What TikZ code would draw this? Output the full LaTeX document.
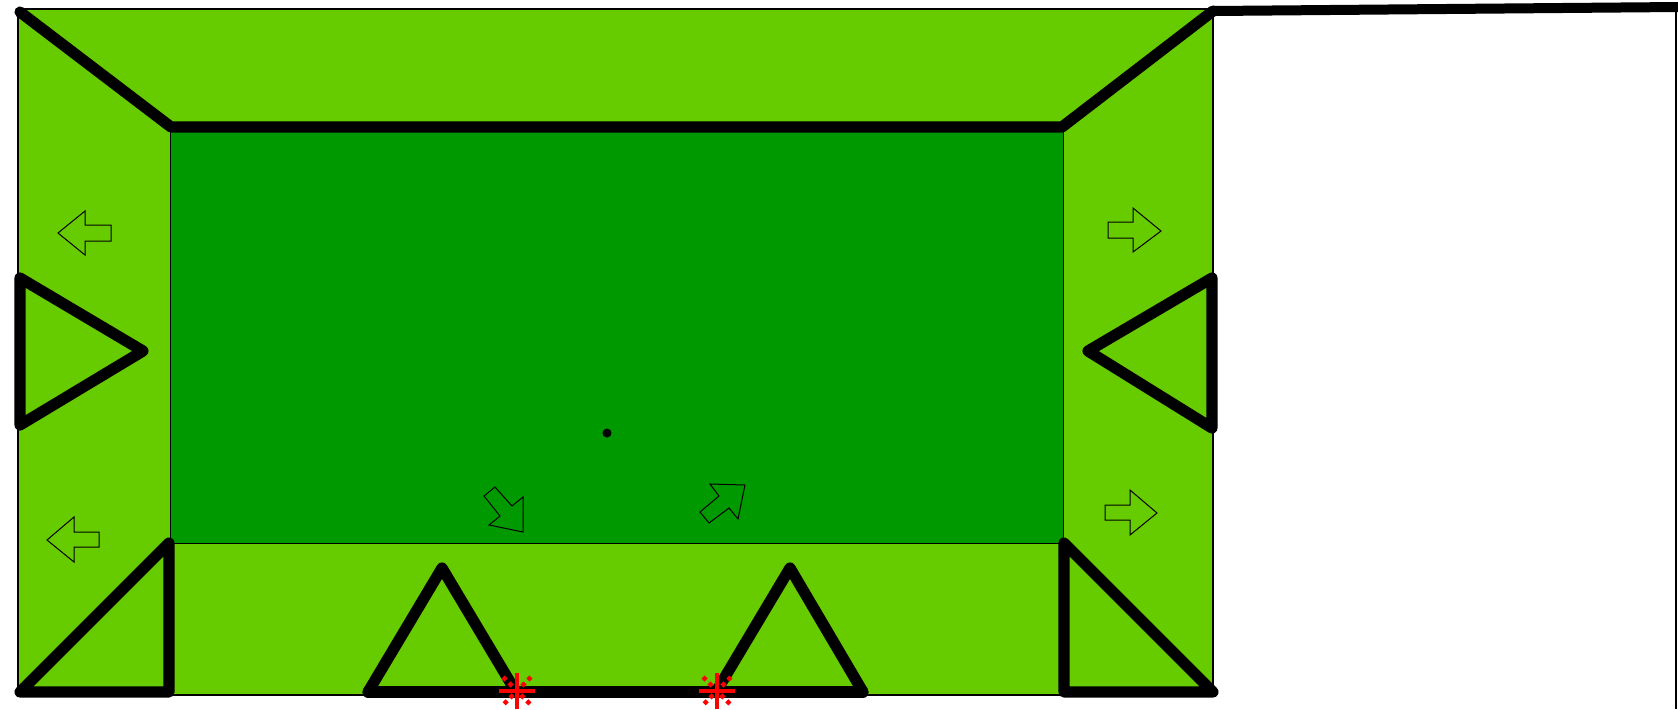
\documentclass[tikz,border=0pt]{standalone}
\usepackage{xcolor}
\usepackage{tikz}
\usetikzlibrary{calc}

\definecolor{lawn}{HTML}{66CC00}
\definecolor{court}{HTML}{009900}
\definecolor{pin}{HTML}{333333}

\begin{document}
\begin{tikzpicture}[
  x=0.5pt, y=-0.5pt,
  field/.style={draw=black, line width=1.2pt, fill=lawn},
  inner/.style={draw=black, line width=0.5pt, fill=court},
  wall/.style={draw=black, line width=5.6pt, line join=round, line cap=round},
  flow/.style={draw=black, line width=0.5pt, line join=miter},
  marker/.style={draw=red, line width=2pt},
  markerdot/.style={draw=red, line width=2.2pt, dash pattern=on 2.2pt off 2pt}
]
\useasboundingbox (0,0) rectangle (1678,709);

% Ground
\draw[field] (18,9) rectangle (1213,695);
\draw[inner] (170,127) rectangle (1063,543);

% Flow arrows
\draw[flow] (58,233) -- (85,211) -- (85,225) -- (111,225) -- (111,241) -- (85,241) -- (85,255) -- cycle;
\draw[flow] (47,540) -- (74,517) -- (74,532) -- (99,532) -- (99,547) -- (74,547) -- (74,562) -- cycle;
\draw[flow] (1161,231) -- (1133,208) -- (1133,222) -- (1108,222) -- (1108,238) -- (1133,238) -- (1133,252) -- cycle;
\draw[flow] (1157,513) -- (1130,490) -- (1130,505) -- (1105,505) -- (1105,520) -- (1130,520) -- (1130,535) -- cycle;
\draw[flow] (484,496) -- (495,487) -- (512,506) -- (523,497) -- (523,532) -- (489,525) -- (500,516) -- cycle;
\draw[flow] (700,512) -- (709,523) -- (729,508) -- (738,519) -- (745,485) -- (710,484) -- (719,496) -- cycle;

% Walls
\draw[wall] (20,12) -- (171,127) -- (1062,127) -- (1213,11);
\draw[wall, line width=5pt] (1213,11) -- (1678,7);
\draw[black, line width=1pt] (1676,8) -- (1676,709);
\draw[wall] (20,278) -- (143,351) -- (20,425) -- cycle;
\draw[wall] (1212,278) -- (1088,351) -- (1212,428) -- cycle;
\draw[wall] (20,692) -- (169,543) -- (169,692) -- cycle;
\draw[wall] (1064,543) -- (1213,692) -- (1064,692) -- cycle;
\draw[wall] (368,692) -- (442,568) -- (516,692);
\draw[wall] (716,692) -- (790,568) -- (863,692);
\draw[wall] (368,692) -- (863,692);

% Markers
\foreach \mx in {517,717}{
  \draw[marker] (\mx-18,691) -- (\mx+18,691);
  \draw[marker] (\mx,673) -- (\mx,709);
  \draw[markerdot] (\mx-14,677) -- (\mx+14,705);
  \draw[markerdot] (\mx+14,677) -- (\mx-14,705);
}

% Centre
\fill[pin] (607,433) circle (4.5);
\end{tikzpicture}
\end{document}
